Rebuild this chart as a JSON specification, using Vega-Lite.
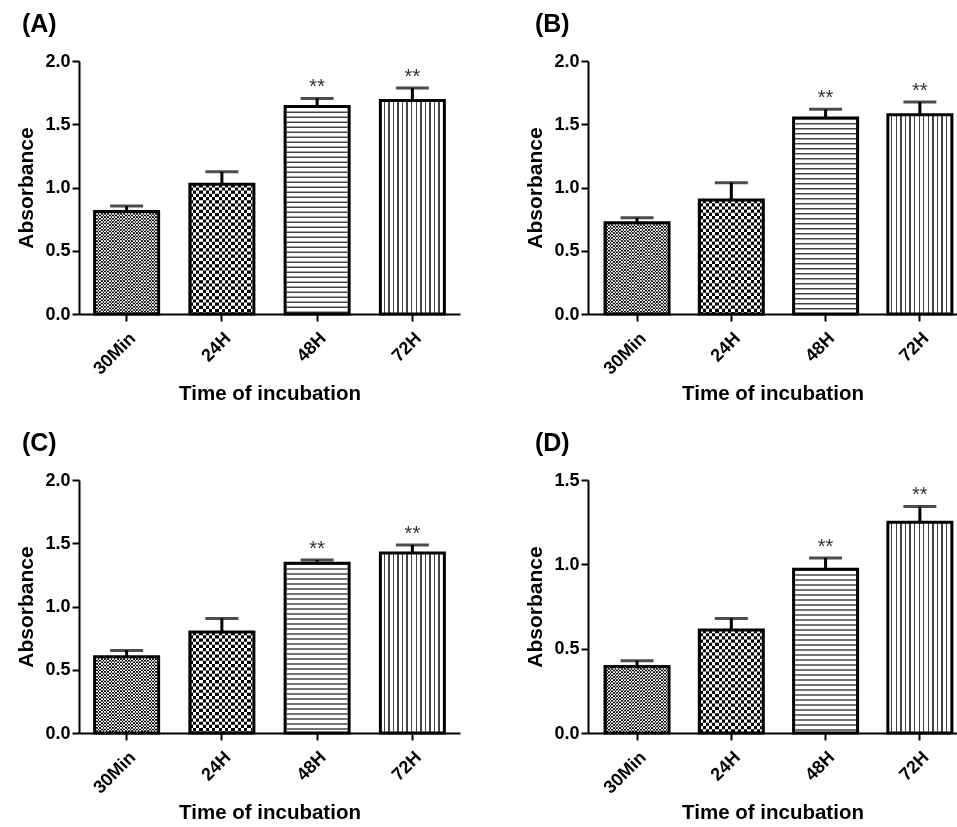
{
"$schema":"https://vega.github.io/schema/vega-lite/v6.json",
"background":"#ffffff",
"padding":{"left":15,"top":12,"right":0,"bottom":0},
"params":[
{"name":"g30","value":{"gradient":"linear","x1":0,"y1":0,"x2":1,"y2":0,"stops":[
{"offset":0,"color":"#000"},{"offset":0.025,"color":"#000"},{"offset":0.025,"color":"#fff"},{"offset":0.05,"color":"#fff"},
{"offset":0.05,"color":"#000"},{"offset":0.075,"color":"#000"},{"offset":0.075,"color":"#fff"},{"offset":0.1,"color":"#fff"},
{"offset":0.1,"color":"#000"},{"offset":0.125,"color":"#000"},{"offset":0.125,"color":"#fff"},{"offset":0.15,"color":"#fff"},
{"offset":0.15,"color":"#000"},{"offset":0.175,"color":"#000"},{"offset":0.175,"color":"#fff"},{"offset":0.2,"color":"#fff"},
{"offset":0.2,"color":"#000"},{"offset":0.225,"color":"#000"},{"offset":0.225,"color":"#fff"},{"offset":0.25,"color":"#fff"},
{"offset":0.25,"color":"#000"},{"offset":0.275,"color":"#000"},{"offset":0.275,"color":"#fff"},{"offset":0.3,"color":"#fff"},
{"offset":0.3,"color":"#000"},{"offset":0.325,"color":"#000"},{"offset":0.325,"color":"#fff"},{"offset":0.35,"color":"#fff"},
{"offset":0.35,"color":"#000"},{"offset":0.375,"color":"#000"},{"offset":0.375,"color":"#fff"},{"offset":0.4,"color":"#fff"},
{"offset":0.4,"color":"#000"},{"offset":0.425,"color":"#000"},{"offset":0.425,"color":"#fff"},{"offset":0.45,"color":"#fff"},
{"offset":0.45,"color":"#000"},{"offset":0.475,"color":"#000"},{"offset":0.475,"color":"#fff"},{"offset":0.5,"color":"#fff"},
{"offset":0.5,"color":"#000"},{"offset":0.525,"color":"#000"},{"offset":0.525,"color":"#fff"},{"offset":0.55,"color":"#fff"},
{"offset":0.55,"color":"#000"},{"offset":0.575,"color":"#000"},{"offset":0.575,"color":"#fff"},{"offset":0.6,"color":"#fff"},
{"offset":0.6,"color":"#000"},{"offset":0.625,"color":"#000"},{"offset":0.625,"color":"#fff"},{"offset":0.65,"color":"#fff"},
{"offset":0.65,"color":"#000"},{"offset":0.675,"color":"#000"},{"offset":0.675,"color":"#fff"},{"offset":0.7,"color":"#fff"},
{"offset":0.7,"color":"#000"},{"offset":0.725,"color":"#000"},{"offset":0.725,"color":"#fff"},{"offset":0.75,"color":"#fff"},
{"offset":0.75,"color":"#000"},{"offset":0.775,"color":"#000"},{"offset":0.775,"color":"#fff"},{"offset":0.8,"color":"#fff"},
{"offset":0.8,"color":"#000"},{"offset":0.825,"color":"#000"},{"offset":0.825,"color":"#fff"},{"offset":0.85,"color":"#fff"},
{"offset":0.85,"color":"#000"},{"offset":0.875,"color":"#000"},{"offset":0.875,"color":"#fff"},{"offset":0.9,"color":"#fff"},
{"offset":0.9,"color":"#000"},{"offset":0.925,"color":"#000"},{"offset":0.925,"color":"#fff"},{"offset":0.95,"color":"#fff"},
{"offset":0.95,"color":"#000"},{"offset":0.975,"color":"#000"},{"offset":0.975,"color":"#fff"},{"offset":1,"color":"#fff"}]}},
{"name":"g24","value":{"gradient":"linear","x1":0,"y1":0,"x2":1,"y2":0,"stops":[
{"offset":0,"color":"#000"},{"offset":0.05,"color":"#000"},{"offset":0.05,"color":"#fff"},{"offset":0.1,"color":"#fff"},
{"offset":0.1,"color":"#000"},{"offset":0.15,"color":"#000"},{"offset":0.15,"color":"#fff"},{"offset":0.2,"color":"#fff"},
{"offset":0.2,"color":"#000"},{"offset":0.25,"color":"#000"},{"offset":0.25,"color":"#fff"},{"offset":0.3,"color":"#fff"},
{"offset":0.3,"color":"#000"},{"offset":0.35,"color":"#000"},{"offset":0.35,"color":"#fff"},{"offset":0.4,"color":"#fff"},
{"offset":0.4,"color":"#000"},{"offset":0.45,"color":"#000"},{"offset":0.45,"color":"#fff"},{"offset":0.5,"color":"#fff"},
{"offset":0.5,"color":"#000"},{"offset":0.55,"color":"#000"},{"offset":0.55,"color":"#fff"},{"offset":0.6,"color":"#fff"},
{"offset":0.6,"color":"#000"},{"offset":0.65,"color":"#000"},{"offset":0.65,"color":"#fff"},{"offset":0.7,"color":"#fff"},
{"offset":0.7,"color":"#000"},{"offset":0.75,"color":"#000"},{"offset":0.75,"color":"#fff"},{"offset":0.8,"color":"#fff"},
{"offset":0.8,"color":"#000"},{"offset":0.85,"color":"#000"},{"offset":0.85,"color":"#fff"},{"offset":0.9,"color":"#fff"},
{"offset":0.9,"color":"#000"},{"offset":0.95,"color":"#000"},{"offset":0.95,"color":"#fff"},{"offset":1,"color":"#fff"}]}},
{"name":"g72","value":{"gradient":"linear","x1":0,"y1":0,"x2":1,"y2":0,"stops":[
{"offset":0,"color":"#fff"},{"offset":0.05,"color":"#fff"},{"offset":0.05,"color":"#444"},{"offset":0.0714,"color":"#444"},
{"offset":0.0714,"color":"#fff"},{"offset":0.1214,"color":"#fff"},{"offset":0.1214,"color":"#444"},{"offset":0.1429,"color":"#444"},
{"offset":0.1429,"color":"#fff"},{"offset":0.1929,"color":"#fff"},{"offset":0.1929,"color":"#444"},{"offset":0.2143,"color":"#444"},
{"offset":0.2143,"color":"#fff"},{"offset":0.2643,"color":"#fff"},{"offset":0.2643,"color":"#444"},{"offset":0.2857,"color":"#444"},
{"offset":0.2857,"color":"#fff"},{"offset":0.3357,"color":"#fff"},{"offset":0.3357,"color":"#444"},{"offset":0.3571,"color":"#444"},
{"offset":0.3571,"color":"#fff"},{"offset":0.4071,"color":"#fff"},{"offset":0.4071,"color":"#444"},{"offset":0.4286,"color":"#444"},
{"offset":0.4286,"color":"#fff"},{"offset":0.4786,"color":"#fff"},{"offset":0.4786,"color":"#444"},{"offset":0.5,"color":"#444"},
{"offset":0.5,"color":"#fff"},{"offset":0.55,"color":"#fff"},{"offset":0.55,"color":"#444"},{"offset":0.5714,"color":"#444"},
{"offset":0.5714,"color":"#fff"},{"offset":0.6214,"color":"#fff"},{"offset":0.6214,"color":"#444"},{"offset":0.6429,"color":"#444"},
{"offset":0.6429,"color":"#fff"},{"offset":0.6929,"color":"#fff"},{"offset":0.6929,"color":"#444"},{"offset":0.7143,"color":"#444"},
{"offset":0.7143,"color":"#fff"},{"offset":0.7643,"color":"#fff"},{"offset":0.7643,"color":"#444"},{"offset":0.7857,"color":"#444"},
{"offset":0.7857,"color":"#fff"},{"offset":0.8357,"color":"#fff"},{"offset":0.8357,"color":"#444"},{"offset":0.8571,"color":"#444"},
{"offset":0.8571,"color":"#fff"},{"offset":0.9071,"color":"#fff"},{"offset":0.9071,"color":"#444"},{"offset":0.9286,"color":"#444"},
{"offset":0.9286,"color":"#fff"},{"offset":0.9786,"color":"#fff"},{"offset":0.9786,"color":"#444"},{"offset":1,"color":"#444"}]}}
],
"datasets":{"d":[
{"panel":"A","time":"30Min","mean":0.81,"upper":0.853,"sig":""},
{"panel":"A","time":"24H","mean":1.026,"upper":1.124,"sig":""},
{"panel":"A","time":"48H","mean":1.64,"upper":1.704,"sig":"**"},
{"panel":"A","time":"72H","mean":1.688,"upper":1.786,"sig":"**"},
{"panel":"B","time":"30Min","mean":0.722,"upper":0.761,"sig":""},
{"panel":"B","time":"24H","mean":0.901,"upper":1.038,"sig":""},
{"panel":"B","time":"48H","mean":1.549,"upper":1.618,"sig":"**"},
{"panel":"B","time":"72H","mean":1.576,"upper":1.676,"sig":"**"},
{"panel":"C","time":"30Min","mean":0.603,"upper":0.653,"sig":""},
{"panel":"C","time":"24H","mean":0.798,"upper":0.905,"sig":""},
{"panel":"C","time":"48H","mean":1.341,"upper":1.367,"sig":"**"},
{"panel":"C","time":"72H","mean":1.423,"upper":1.487,"sig":"**"},
{"panel":"D","time":"30Min","mean":0.394,"upper":0.428,"sig":""},
{"panel":"D","time":"24H","mean":0.611,"upper":0.679,"sig":""},
{"panel":"D","time":"48H","mean":0.971,"upper":1.038,"sig":"**"},
{"panel":"D","time":"72H","mean":1.25,"upper":1.343,"sig":"**"}
]},
"data":{"name":"d"},
"columns":2,
"spacing":{"row":26,"column":64},
"resolve":{"scale":{"x":"independent","y":"independent"}},
"concat":[
{"title":{"text":"(A)","dx":6},"width":381,"height":253,
"transform":[{"filter":"datum.panel==='A'"}],
"encoding":{
"x":{"field":"time","type":"nominal","sort":["30Min","24H","48H","72H"],"scale":{"paddingInner":0.33,"paddingOuter":0.165},"axis":{"title":"Time of incubation"}},
"y":{"field":"mean","type":"quantitative","scale":{"domain":[0,2]},"axis":{"title":"Absorbance","values":[0,0.5,1,1.5,2],"format":".1f"}}},
"layer":[
{"mark":{"type":"bar","width":64,"fill":{"expr":"datum.time==='30Min'?g30:datum.time==='24H'?g24:datum.time==='72H'?g72:'#ffffff'"}}},
{"transform":[{"filter":"datum.time!=='72H'"}],"mark":{"type":"rule","strokeWidth":61,"strokeCap":"butt","blend":"difference"},
"encoding":{"y2":{"datum":0},"strokeDash":{"field":"time","type":"nominal","scale":{"domain":["30Min","24H","48H"],"range":[[1.6,1.6],[3.2,3.2],[1.5,3.5]]},"legend":null},"stroke":{"field":"time","type":"nominal","scale":{"domain":["30Min","24H","48H"],"range":["#ffffff","#ffffff","#bbbbbb"]},"legend":null}}},
{"mark":{"type":"bar","width":64,"filled":false,"stroke":"#000","strokeWidth":3}},
{"mark":{"type":"rule","strokeWidth":3,"color":"#000"},"encoding":{"y2":{"field":"upper"}}},
{"mark":{"type":"tick","size":33,"thickness":3,"color":"#000"},"encoding":{"y":{"field":"upper","type":"quantitative","title":"Absorbance","scale":{"domain":[0,2]}}}},
{"transform":[{"filter":"datum.sig!==''"}],"mark":{"type":"text","fontSize":20,"dy":-5,"baseline":"alphabetic","color":"#333","font":"Liberation Sans"},"encoding":{"y":{"field":"upper","type":"quantitative","title":"Absorbance","scale":{"domain":[0,2]}},"text":{"field":"sig"}}}
]},
{"title":{"text":"(B)","dx":10},"width":369,"height":253,
"transform":[{"filter":"datum.panel==='B'"}],
"encoding":{
"x":{"field":"time","type":"nominal","sort":["30Min","24H","48H","72H"],"scale":{"paddingInner":0.32,"paddingOuter":0.117,"align":0.77},"axis":{"title":"Time of incubation"}},
"y":{"field":"mean","type":"quantitative","scale":{"domain":[0,2]},"axis":{"title":"Absorbance","values":[0,0.5,1,1.5,2],"format":".1f"}}},
"layer":[
{"mark":{"type":"bar","width":64,"fill":{"expr":"datum.time==='30Min'?g30:datum.time==='24H'?g24:datum.time==='72H'?g72:'#ffffff'"}}},
{"transform":[{"filter":"datum.time!=='72H'"}],"mark":{"type":"rule","strokeWidth":61,"strokeCap":"butt","blend":"difference"},
"encoding":{"y2":{"datum":0},"strokeDash":{"field":"time","type":"nominal","scale":{"domain":["30Min","24H","48H"],"range":[[1.6,1.6],[3.2,3.2],[1.5,3.5]]},"legend":null},"stroke":{"field":"time","type":"nominal","scale":{"domain":["30Min","24H","48H"],"range":["#ffffff","#ffffff","#bbbbbb"]},"legend":null}}},
{"mark":{"type":"bar","width":64,"filled":false,"stroke":"#000","strokeWidth":3}},
{"mark":{"type":"rule","strokeWidth":3,"color":"#000"},"encoding":{"y2":{"field":"upper"}}},
{"mark":{"type":"tick","size":33,"thickness":3,"color":"#000"},"encoding":{"y":{"field":"upper","type":"quantitative","title":"Absorbance","scale":{"domain":[0,2]}}}},
{"transform":[{"filter":"datum.sig!==''"}],"mark":{"type":"text","fontSize":20,"dy":-5,"baseline":"alphabetic","color":"#333","font":"Liberation Sans"},"encoding":{"y":{"field":"upper","type":"quantitative","title":"Absorbance","scale":{"domain":[0,2]}},"text":{"field":"sig"}}}
]},
{"title":{"text":"(C)","dx":6},"width":381,"height":253,
"transform":[{"filter":"datum.panel==='C'"}],
"encoding":{
"x":{"field":"time","type":"nominal","sort":["30Min","24H","48H","72H"],"scale":{"paddingInner":0.33,"paddingOuter":0.165},"axis":{"title":"Time of incubation"}},
"y":{"field":"mean","type":"quantitative","scale":{"domain":[0,2]},"axis":{"title":"Absorbance","values":[0,0.5,1,1.5,2],"format":".1f"}}},
"layer":[
{"mark":{"type":"bar","width":64,"fill":{"expr":"datum.time==='30Min'?g30:datum.time==='24H'?g24:datum.time==='72H'?g72:'#ffffff'"}}},
{"transform":[{"filter":"datum.time!=='72H'"}],"mark":{"type":"rule","strokeWidth":61,"strokeCap":"butt","blend":"difference"},
"encoding":{"y2":{"datum":0},"strokeDash":{"field":"time","type":"nominal","scale":{"domain":["30Min","24H","48H"],"range":[[1.6,1.6],[3.2,3.2],[1.5,3.5]]},"legend":null},"stroke":{"field":"time","type":"nominal","scale":{"domain":["30Min","24H","48H"],"range":["#ffffff","#ffffff","#bbbbbb"]},"legend":null}}},
{"mark":{"type":"bar","width":64,"filled":false,"stroke":"#000","strokeWidth":3}},
{"mark":{"type":"rule","strokeWidth":3,"color":"#000"},"encoding":{"y2":{"field":"upper"}}},
{"mark":{"type":"tick","size":33,"thickness":3,"color":"#000"},"encoding":{"y":{"field":"upper","type":"quantitative","title":"Absorbance","scale":{"domain":[0,2]}}}},
{"transform":[{"filter":"datum.sig!==''"}],"mark":{"type":"text","fontSize":20,"dy":-5,"baseline":"alphabetic","color":"#333","font":"Liberation Sans"},"encoding":{"y":{"field":"upper","type":"quantitative","title":"Absorbance","scale":{"domain":[0,2]}},"text":{"field":"sig"}}}
]},
{"title":{"text":"(D)","dx":10},"width":369,"height":253,
"transform":[{"filter":"datum.panel==='D'"}],
"encoding":{
"x":{"field":"time","type":"nominal","sort":["30Min","24H","48H","72H"],"scale":{"paddingInner":0.32,"paddingOuter":0.117,"align":0.77},"axis":{"title":"Time of incubation"}},
"y":{"field":"mean","type":"quantitative","scale":{"domain":[0,1.5]},"axis":{"title":"Absorbance","values":[0,0.5,1,1.5],"format":".1f"}}},
"layer":[
{"mark":{"type":"bar","width":64,"fill":{"expr":"datum.time==='30Min'?g30:datum.time==='24H'?g24:datum.time==='72H'?g72:'#ffffff'"}}},
{"transform":[{"filter":"datum.time!=='72H'"}],"mark":{"type":"rule","strokeWidth":61,"strokeCap":"butt","blend":"difference"},
"encoding":{"y2":{"datum":0},"strokeDash":{"field":"time","type":"nominal","scale":{"domain":["30Min","24H","48H"],"range":[[1.6,1.6],[3.2,3.2],[1.5,3.5]]},"legend":null},"stroke":{"field":"time","type":"nominal","scale":{"domain":["30Min","24H","48H"],"range":["#ffffff","#ffffff","#bbbbbb"]},"legend":null}}},
{"mark":{"type":"bar","width":64,"filled":false,"stroke":"#000","strokeWidth":3}},
{"mark":{"type":"rule","strokeWidth":3,"color":"#000"},"encoding":{"y2":{"field":"upper"}}},
{"mark":{"type":"tick","size":33,"thickness":3,"color":"#000"},"encoding":{"y":{"field":"upper","type":"quantitative","title":"Absorbance","scale":{"domain":[0,1.5]}}}},
{"transform":[{"filter":"datum.sig!==''"}],"mark":{"type":"text","fontSize":20,"dy":-5,"baseline":"alphabetic","color":"#333","font":"Liberation Sans"},"encoding":{"y":{"field":"upper","type":"quantitative","title":"Absorbance","scale":{"domain":[0,1.5]}},"text":{"field":"sig"}}}
]}
],
"config":{
"font":"Liberation Sans",
"view":{"stroke":null},
"axis":{"grid":false,"domainColor":"#000","domainWidth":2,"tickColor":"#000","tickWidth":2,"tickSize":7,"labelFont":"Liberation Sans","labelFontSize":18,"labelFontWeight":"bold","labelColor":"#000","labelPadding":2,"titleFont":"Liberation Sans","titleFontWeight":"bold","titleColor":"#000","titleFontSize":21},
"axisY":{"titlePadding":8},
"axisX":{"labelAngle":-45,"labelPadding":8,"titlePadding":6,"titleFontSize":20.5},
"title":{"font":"Liberation Sans","fontSize":25,"fontWeight":"bold","anchor":"start","frame":"bounds","offset":15,"color":"#000"}
}
}
